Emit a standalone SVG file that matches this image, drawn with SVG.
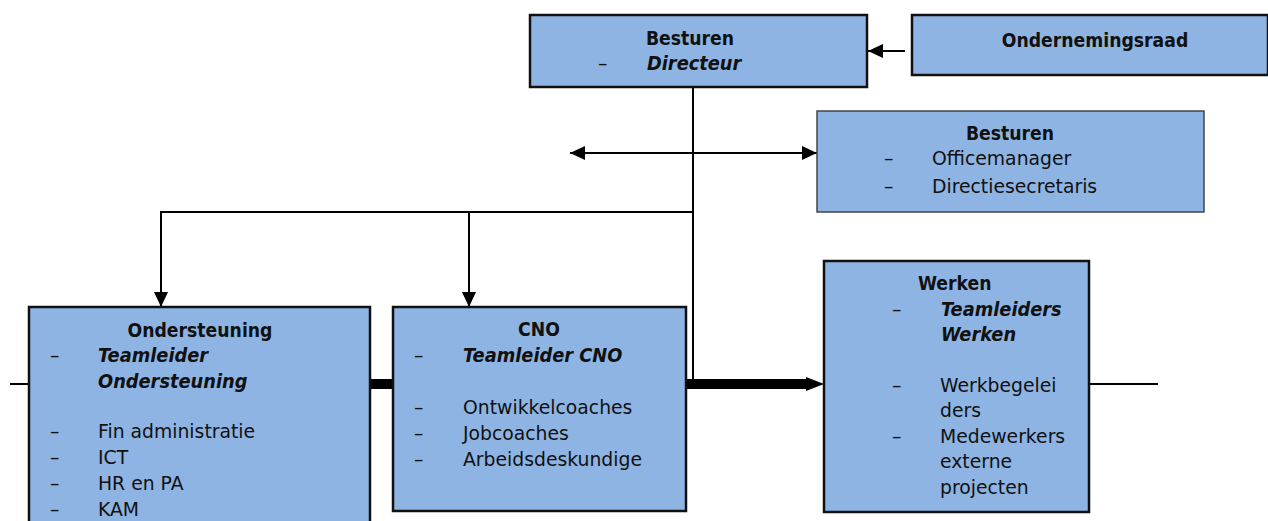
<svg xmlns="http://www.w3.org/2000/svg" width="1268" height="521" viewBox="0 0 1268 521">
<defs>
<marker id="ahl" viewBox="0 0 10 10" refX="10" refY="5" markerWidth="15" markerHeight="14" markerUnits="userSpaceOnUse" orient="auto-start-reverse" preserveAspectRatio="none"><path d="M0,0 L10,5 L0,10 z" fill="#000"/></marker>
</defs>
<style>
.box{fill:#8EB4E3;stroke:#111;stroke-width:2.5}
.box2{fill:#8EB4E3;stroke:#444;stroke-width:1.5}
text{font-family:"DejaVu Sans","Liberation Sans",sans-serif;font-size:18.8px;fill:#111}
.b{font-family:"DejaVu Sans Condensed","DejaVu Sans",sans-serif;font-stretch:condensed;font-weight:bold;font-size:19.2px}
.bi{font-family:"DejaVu Sans Condensed","DejaVu Sans",sans-serif;font-stretch:condensed;font-weight:bold;font-style:italic;font-size:19.8px}
.c{text-anchor:middle}
.ln{stroke:#000;stroke-width:2;fill:none}
</style>
<rect width="1268" height="521" fill="#fff"/>
<g id="connectors">
<line class="ln" x1="905" y1="51" x2="868" y2="51" marker-end="url(#ahl)"/>
<line class="ln" x1="570" y1="153" x2="817" y2="153" marker-start="url(#ahl)" marker-end="url(#ahl)"/>
<line class="ln" x1="693" y1="87" x2="693" y2="380"/>
<polyline class="ln" points="693,212 161,212 161,307" marker-end="url(#ahl)"/>
<line class="ln" x1="469" y1="212" x2="469" y2="307" marker-end="url(#ahl)"/>
<line x1="370" y1="384" x2="393" y2="384" stroke="#000" stroke-width="10"/>
<line x1="686" y1="384" x2="808" y2="384" stroke="#000" stroke-width="10"/>
<path d="M806,377 L824,384 L806,391 z" fill="#000"/>
<line class="ln" x1="10" y1="384" x2="29" y2="384"/>
<line class="ln" x1="1089" y1="384" x2="1158" y2="384"/>
</g>
<g id="besturen-directeur">
<rect class="box" x="530" y="15" width="337" height="72"/>
<text class="b c" x="690" y="45">Besturen</text>
<text x="598" y="70">–</text>
<text class="bi" x="647" y="70">Directeur</text>
</g>
<g id="ondernemingsraad">
<rect class="box" x="912" y="15" width="356" height="60"/>
<text class="b c" x="1095" y="47">Ondernemingsraad</text>
</g>
<g id="besturen-staf">
<rect class="box2" x="817" y="111" width="387" height="101"/>
<text class="b c" x="1010" y="140">Besturen</text>
<text x="884" y="165">–</text>
<text x="932" y="165">Officemanager</text>
<text x="884" y="193">–</text>
<text x="932" y="193">Directiesecretaris</text>
</g>
<g id="ondersteuning">
<rect class="box" x="29" y="307" width="341" height="230"/>
<text class="b c" x="200" y="337">Ondersteuning</text>
<text x="50" y="362">–</text>
<text class="bi" x="98" y="362">Teamleider</text>
<text class="bi" x="98" y="388">Ondersteuning</text>
<text x="50" y="438">–</text>
<text x="98" y="438">Fin administratie</text>
<text x="50" y="464">–</text>
<text x="98" y="464">ICT</text>
<text x="50" y="490">–</text>
<text x="98" y="490">HR en PA</text>
<text x="50" y="516">–</text>
<text x="98" y="516">KAM</text>
</g>
<g id="cno">
<rect class="box" x="393" y="307" width="293" height="204"/>
<text class="b c" x="539" y="336">CNO</text>
<text x="414" y="362">–</text>
<text class="bi" x="463" y="362">Teamleider CNO</text>
<text x="414" y="414">–</text>
<text x="463" y="414">Ontwikkelcoaches</text>
<text x="414" y="440">–</text>
<text x="463" y="440">Jobcoaches</text>
<text x="414" y="466">–</text>
<text x="463" y="466">Arbeidsdeskundige</text>
</g>
<g id="werken">
<rect class="box" x="824" y="261" width="265" height="251"/>
<text class="b" x="918" y="290">Werken</text>
<text x="892" y="316">–</text>
<text class="bi" x="941" y="316">Teamleiders</text>
<text class="bi" x="941" y="341">Werken</text>
<text x="892" y="392">–</text>
<text x="940" y="392">Werkbegelei</text>
<text x="940" y="417">ders</text>
<text x="892" y="443">–</text>
<text x="940" y="443">Medewerkers</text>
<text x="940" y="468">externe</text>
<text x="940" y="494">projecten</text>
</g>
</svg>
